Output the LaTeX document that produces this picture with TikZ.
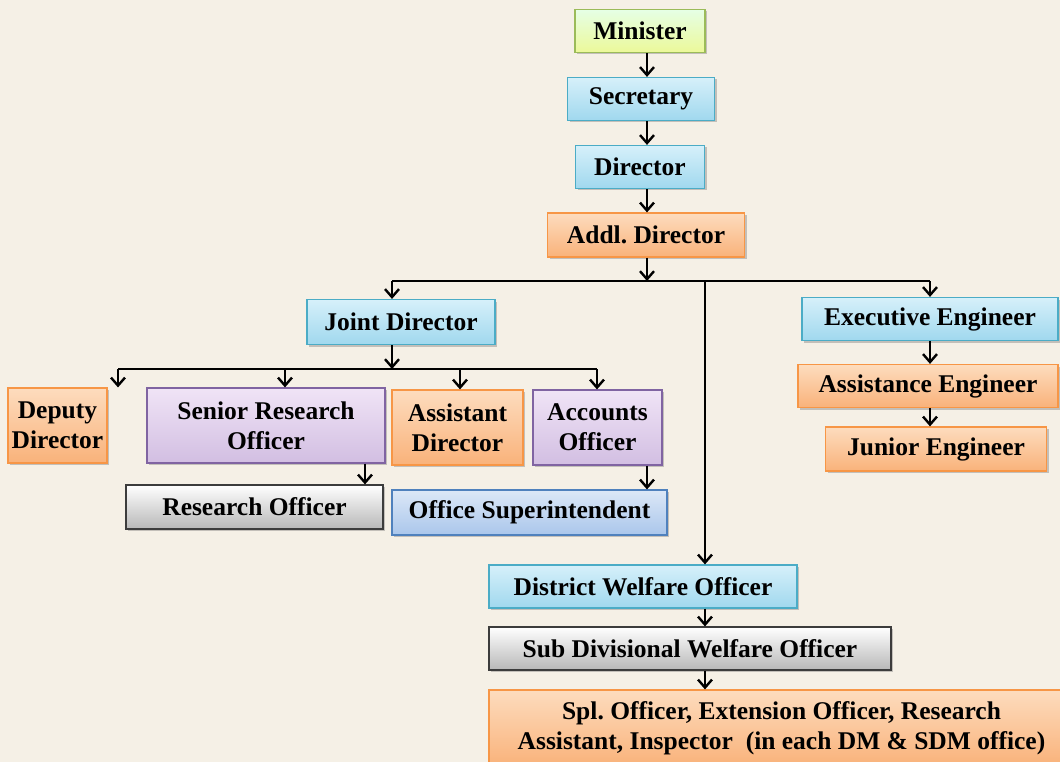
\documentclass[tikz,border=0pt]{standalone}
\usepackage{fontspec}
\setmainfont{Liberation Serif}
\frenchspacing
\usetikzlibrary{arrows.meta,shadows}
\definecolor{bg}{HTML}{F5F0E6}
\tikzset{
  box/.style={rectangle, inner sep=0pt, line width=1.2pt, align=center,
    font=\fontsize{25.5}{30}\selectfont\bfseries,
    drop shadow={shadow xshift=2pt, shadow yshift=-2pt, opacity=0.35, fill=black!60}},
  greenbox/.style={box, top color=green!10!white, bottom color=green!50!olive!25!yellow!40, draw={rgb,255:red,155;green,187;blue,89}},
  bluebox/.style={box, draw={rgb,255:red,75;green,172;blue,198}, top color={rgb,255:red,214;green,240;blue,250}, bottom color={rgb,255:red,160;green,216;blue,238}},
  orbox/.style={box, draw={rgb,255:red,247;green,150;blue,70}, top color={rgb,255:red,253;green,220;blue,190}, bottom color={rgb,255:red,249;green,178;blue,122}},
  purbox/.style={box, draw={rgb,255:red,128;green,100;blue,162}, top color={rgb,255:red,240;green,228;blue,246}, bottom color={rgb,255:red,210;green,190;blue,226}},
  graybox/.style={box, draw={rgb,255:red,60;green,60;blue,60}, top color=white, bottom color=black!28},
  osbox/.style={box, draw={rgb,255:red,79;green,129;blue,189}, top color={rgb,255:red,220;green,232;blue,247}, bottom color={rgb,255:red,170;green,198;blue,235}},
  arr/.style={line width=2.6pt, arrows={-Straight Barb[length=8pt,width=14pt,line width=2.4pt]}},
  ln/.style={line width=2.6pt},
}
\begin{document}
\begin{tikzpicture}[x=1pt,y=-1pt]
\fill[bg] (0,0) rectangle (1060,762);
\useasboundingbox (0,0) rectangle (1060,762);
\begin{scope}
\clip (0,0) rectangle (1060,762);
\node[greenbox, minimum width=130, minimum height=43] (min) at (640,31) {Minister};
\node[bluebox, minimum width=147, minimum height=43] (sec) at (641,99) {Secretary};
\node[bluebox, minimum width=129, minimum height=43] (dir) at (640,167) {Director};
\node[orbox, minimum width=197, minimum height=44] (addl) at (646,235) {Addl. Director};
\node[bluebox, minimum width=188, minimum height=45] (jd) at (401,322) {Joint Director};
\node[bluebox, minimum width=256, minimum height=43] (ee) at (930,319) {Executive Engineer};
\node[orbox, minimum width=260, minimum height=43] (ae) at (928,386) {Assistance Engineer};
\node[orbox, minimum width=221, minimum height=44] (je) at (936,449) {Junior Engineer};
\node[orbox, minimum width=99, minimum height=75] (dd) at (57.5,425.5) {Deputy\\Director};
\node[purbox, minimum width=238, minimum height=75] (sro) at (266,425.5) {Senior Research\\Officer};
\node[orbox, minimum width=131, minimum height=75] (ad) at (457.5,427.5) {Assistant\\Director};
\node[purbox, minimum width=129, minimum height=75] (ao) at (597.5,427.5) {Accounts\\Officer};
\node[graybox, minimum width=257, minimum height=44] (ro) at (254.5,507) {Research Officer};
\node[osbox, minimum width=275, minimum height=45] (os) at (529.5,512.5) {Office Superintendent};
\node[bluebox, minimum width=308, minimum height=43] (dwo) at (643,586.5) {District Welfare Officer};
\node[graybox, minimum width=402, minimum height=43] (sdwo) at (690,648.5) {Sub Divisional Welfare Officer};
\node[orbox, minimum width=585, minimum height=76] (spl) at (781.5,728) {Spl. Officer, Extension Officer, Research\\Assistant, Inspector\ \ (in each DM \& SDM office)};
\end{scope}
% top chain
\draw[arr] (min.south -| 647,0) -- (sec.north -| 647,0);
\draw[arr] (sec.south -| 647,0) -- (dir.north -| 647,0);
\draw[arr] (dir.south -| 647,0) -- (addl.north -| 647,0);
\coordinate (b1) at (647,281);
\draw[arr] (addl.south -| b1) -- (b1);
\coordinate (bl) at (392,281);
\coordinate (br) at (930,281);
\coordinate (bm) at (705,281);
\draw[ln] (bl) -- (br);
\draw[arr] (bl) -- (jd.north -| bl);
\draw[arr] (br) -- (ee.north -| br);
\draw[arr] (bm) -- (dwo.north -| bm);
% engineers
\draw[arr] (ee.south -| 930,0) -- (ae.north -| 930,0);
\draw[arr] (ae.south -| 930,0) -- (je.north -| 930,0);
% joint director branch
\coordinate (j1) at (392,369);
\coordinate (jl) at (118,369);
\coordinate (jr) at (597,369);
\draw[arr] (jd.south -| j1) -- (j1);
\draw[ln] (jl) -- (jr);
\draw[arr] (jl) -- (dd.north -| jl);
\draw[arr] (285,369) -- (sro.north -| 285,0);
\draw[arr] (460,369) -- (ad.north -| 460,0);
\draw[arr] (jr) -- (ao.north -| jr);
\draw[arr] (sro.south -| 365,0) -- (ro.north -| 365,0);
\draw[arr] (ao.south -| 647,0) -- (os.north -| 647,0);
% district chain
\draw[arr] (dwo.south -| 705,0) -- (sdwo.north -| 705,0);
\draw[arr] (sdwo.south -| 705,0) -- (spl.north -| 705,0);
\end{tikzpicture}
\end{document}
